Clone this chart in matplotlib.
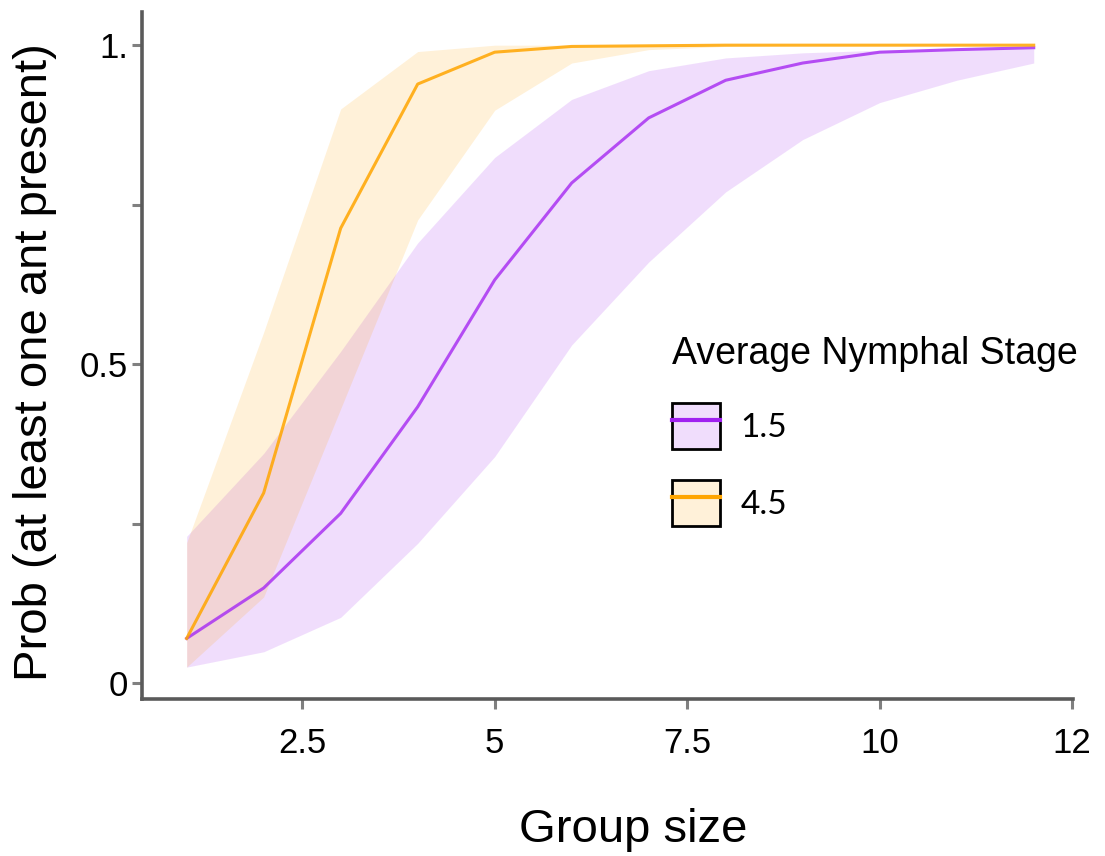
import numpy as np
import matplotlib
matplotlib.use("Agg")
import matplotlib.pyplot as plt
from matplotlib.patches import Patch
from matplotlib.lines import Line2D

plt.rcParams['font.family'] = ['Liberation Sans', 'DejaVu Sans']

# Group sizes (x) and fitted probabilities
group_size = np.arange(1, 13)

# Average nymphal stage 1.5
p_15 = [0.070, 0.149, 0.266, 0.433, 0.632, 0.784, 0.886, 0.945, 0.972, 0.989, 0.993, 0.996]
lo_15 = [0.025, 0.049, 0.103, 0.219, 0.355, 0.530, 0.660, 0.770, 0.852, 0.910, 0.945, 0.972]
hi_15 = [0.230, 0.360, 0.520, 0.690, 0.824, 0.915, 0.960, 0.980, 0.988, 0.992, 0.994, 0.995]

# Average nymphal stage 4.5
p_45 = [0.070, 0.298, 0.713, 0.939, 0.989, 0.998, 0.999, 1.0, 1.0, 1.0, 1.0, 1.0]
lo_45 = [0.025, 0.135, 0.430, 0.726, 0.898, 0.972, 0.993, 0.998, 1.0, 1.0, 1.0, 1.0]
hi_45 = [0.220, 0.550, 0.900, 0.990, 1.0, 1.0, 1.0, 1.0, 1.0, 1.0, 1.0, 1.0]

stages = ['1.5', '4.5']
purple = '#A020F0'
orange = '#FFA500'

fig = plt.figure(figsize=(11.05, 8.56), dpi=100)
ax = fig.add_axes([142/1105, 1 - 699/856, (1073-142)/1105, (699-12)/856])

ax.fill_between(group_size, lo_15, hi_15, color=purple, alpha=0.15, lw=0)
ax.fill_between(group_size, lo_45, hi_45, color=orange, alpha=0.15, lw=0)
ax.plot(group_size, p_15, color='#AA33F2', lw=2.2, alpha=0.85)
ax.plot(group_size, p_45, color=orange, lw=2.2, alpha=0.85)

ax.set_xlim(0.42, 12.51)
ax.set_ylim(-0.025, 1.052)

# the right-most tick in the original sits at the axis end, labelled "12"
ax.set_xticks([2.5, 5, 7.5, 10, 12.5])
ax.set_xticklabels(['2.5', '5', '7.5', '10', '12'])
ax.set_yticks([0, 0.25, 0.5, 0.75, 1.0])
ax.set_yticklabels(['0', '', '0.5', '', '1.'])

for side in ['top', 'right']:
    ax.spines[side].set_visible(False)
for side in ['left', 'bottom']:
    ax.spines[side].set_color('#5a5a5a')
    ax.spines[side].set_linewidth(2.6)
ax.tick_params(axis='both', direction='out', length=7, width=2.2, color='#808080',
               labelsize=25)
ax.tick_params(axis='x', pad=13)
ax.tick_params(axis='y', pad=3)

fig.text(35/1105, 1 - 362/856, 'Prob (at least one ant present)', rotation=90,
         ha='center', va='center', fontsize=34)
fig.text(633/1105, 1 - 830/856, 'Group size', ha='center', va='center', fontsize=34)

handles = []
for col in [purple, orange]:
    box = Patch(facecolor=matplotlib.colors.to_rgba(col, 0.15), edgecolor='black', linewidth=2)
    ln = Line2D([], [], color=col, lw=3)
    handles.append((box, ln))

leg = ax.legend(handles, stages, title='Average Nymphal Stage', loc='upper left',
                bbox_to_anchor=(672/1105, 1 - 336/856), bbox_transform=fig.transFigure,
                frameon=False, fontsize=24, title_fontsize=27, alignment='left',
                handlelength=1.45, handleheight=1.75, handletextpad=0.6,
                labelspacing=0.93, borderpad=0, borderaxespad=0)
for t in leg.get_texts():
    t.set_family(['Lato', 'DejaVu Sans'])

fig.savefig('out.png', dpi=100)
